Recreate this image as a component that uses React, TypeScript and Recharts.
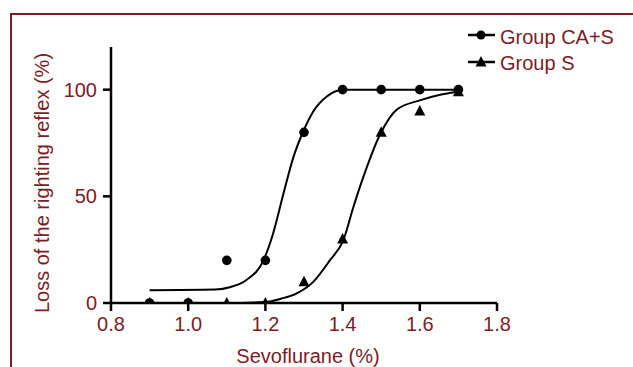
import React from 'react';
import { ComposedChart, Line, Scatter, XAxis, YAxis, Label } from 'recharts';

const xTicks = [0.8, 1.0, 1.2, 1.4, 1.6, 1.8];
const yTicks = [0, 50, 100];
const doses = [0.9, 1.0, 1.1, 1.2, 1.3, 1.4, 1.5, 1.6, 1.7];
const caSValues = [0, 0, 20, 20, 80, 100, 100, 100, 100];
const sValues = [0, 0, 0, 0, 10, 30, 80, 90, 99];
const fitCaSX = [0.9, 1.07, 1.11, 1.15, 1.195, 1.22, 1.247, 1.273, 1.298, 1.324, 1.359, 1.4, 1.5, 1.6, 1.7];
const fitCaSY = [6, 6.3, 7.5, 10.7, 20, 32.6, 51.4, 68.6, 80.4, 89.8, 96.8, 100, 100, 100, 100];
const fitSX = [0.9, 1.0, 1.1, 1.2, 1.24, 1.28, 1.324, 1.367, 1.402, 1.428, 1.454, 1.497, 1.54, 1.6, 1.65, 1.7];
const fitSY = [0, 0, 0, 0.5, 2, 4.4, 9.9, 20, 29.5, 45, 59.2, 79, 90.6, 95, 97.5, 99];
const seriesNames = ['Group CA+S', 'Group S'];

const RED = '#7b1c26';
const FONT = '"Liberation Sans", Arial, sans-serif';

const caSPoints = doses.map((x, i) => ({ x, y: caSValues[i] }));
const sPoints = doses.map((x, i) => ({ x, y: sValues[i] }));
const caSFit = fitCaSX.map((x, i) => ({ x, y: fitCaSY[i] }));
const sFit = fitSX.map((x, i) => ({ x, y: fitSY[i] }));

const Dot = (p: any) => <circle cx={p.cx} cy={p.cy} r={4.8} fill="#000" />;
const Tri = (p: any) => (
  <polygon
    points={`${p.cx},${p.cy - 6} ${p.cx - 5.5},${p.cy + 4.5} ${p.cx + 5.5},${p.cy + 4.5}`}
    fill="#000"
  />
);

const YTitle = (props: any) => {
  const vb = props.viewBox || { x: 0, y: 47, width: 111, height: 256 };
  const cx = vb.x + 42;
  const cy = vb.y + vb.height / 2 + 8;
  return (
    <text
      x={cx}
      y={cy}
      transform={`rotate(-90 ${cx} ${cy})`}
      textAnchor="middle"
      dominantBaseline="central"
      fill={RED}
      fontSize={20}
      fontFamily={FONT}
    >
      Loss of the righting reflex (%)
    </text>
  );
};

const XTitle = (props: any) => {
  const vb = props.viewBox || { x: 111, y: 303, width: 386, height: 64 };
  return (
    <text
      x={vb.x + vb.width / 2 + 4}
      y={vb.y + vb.height - 4}
      textAnchor="middle"
      fill={RED}
      fontSize={20}
      fontFamily={FONT}
    >
      Sevoflurane (%)
    </text>
  );
};

export default function App() {
  return (
    <div style={{ position: 'fixed', left: 0, top: 0, width: 633, height: 367, overflow: 'hidden', background: '#fff' }}>
      <div
        style={{
          position: 'absolute',
          left: 10,
          top: 13,
          width: 623,
          height: 354,
          borderTop: `2px solid ${RED}`,
          borderLeft: `2px solid ${RED}`,
          boxSizing: 'border-box',
        }}
      />
      <div style={{ position: 'absolute', left: 0, top: 0 }}>
        <ComposedChart width={633} height={367} margin={{ top: 47, right: 136, bottom: 0, left: 0 }}>
          <XAxis
            type="number"
            dataKey="x"
            domain={[0.8, 1.8]}
            ticks={xTicks}
            tickFormatter={(v: number) => v.toFixed(1)}
            height={64}
            tickSize={8}
            tickMargin={6}
            axisLine={{ stroke: '#000', strokeWidth: 2.5 }}
            tickLine={{ stroke: '#000', strokeWidth: 2.5 }}
            tick={{ fill: RED, fontSize: 20, fontFamily: FONT }}
            allowDataOverflow
          >
            <Label content={<XTitle />} />
          </XAxis>
          <YAxis
            type="number"
            dataKey="y"
            domain={[0, 120]}
            ticks={yTicks}
            width={111}
            tickSize={8}
            tickMargin={6}
            axisLine={{ stroke: '#000', strokeWidth: 2.5 }}
            tickLine={{ stroke: '#000', strokeWidth: 2.5 }}
            tick={{ fill: RED, fontSize: 20, fontFamily: FONT }}
            allowDataOverflow
          >
            <Label content={<YTitle />} />
          </YAxis>
          <Line
            data={caSFit}
            dataKey="y"
            type="monotone"
            stroke="#000"
            strokeWidth={2}
            dot={false}
            activeDot={false}
            isAnimationActive={false}
            name={seriesNames[0] + ' fit'}
          />
          <Line
            data={sFit}
            dataKey="y"
            type="monotone"
            stroke="#000"
            strokeWidth={2}
            dot={false}
            activeDot={false}
            isAnimationActive={false}
            name={seriesNames[1] + ' fit'}
          />
          <Scatter data={caSPoints} dataKey="y" shape={Dot} isAnimationActive={false} name={seriesNames[0]} />
          <Scatter data={sPoints} dataKey="y" shape={Tri} isAnimationActive={false} name={seriesNames[1]} />
        </ComposedChart>
      </div>
      <svg style={{ position: 'absolute', left: 460, top: 20 }} width={173} height={60}>
        <line x1={8} y1={15} x2={35} y2={15} stroke="#000" strokeWidth={2.5} />
        <circle cx={21} cy={15} r={4.5} fill="#000" />
        <text x={40} y={24} fill={RED} fontSize={20} fontFamily={FONT}>
          {seriesNames[0]}
        </text>
        <line x1={8} y1={42} x2={35} y2={42} stroke="#000" strokeWidth={2.5} />
        <polygon points="21,36 15.5,46.5 26.5,46.5" fill="#000" />
        <text x={40} y={50} fill={RED} fontSize={20} fontFamily={FONT}>
          {seriesNames[1]}
        </text>
      </svg>
    </div>
  );
}
